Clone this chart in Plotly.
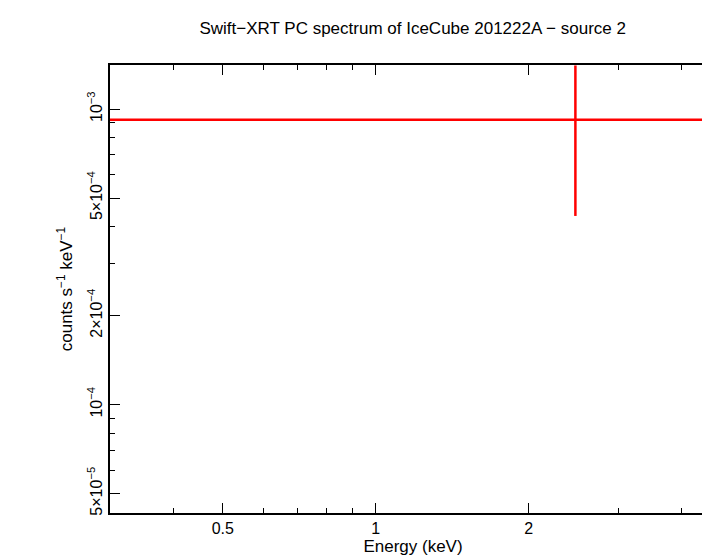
import plotly.graph_objects as go
import numpy as np

energy = [2.47]
e_lo = [2.2]
e_hi = [7.5]
rate = [9.2e-4]
rate_err = [4.85e-4]

xticks = [0.5, 1, 2]
xticktext = ["0.5", "1", "2"]
xminor = [0.3, 0.4, 0.6, 0.7, 0.8, 0.9, 3, 4]
yticks = [5e-5, 1e-4, 2e-4, 5e-4, 1e-3]
yticktext = ["5×10<sup>−5</sup>", "10<sup>−4</sup>", "2×10<sup>−4</sup>", "5×10<sup>−4</sup>", "10<sup>−3</sup>"]
yminor = [6e-5, 7e-5, 8e-5, 9e-5, 3e-4, 4e-4, 6e-4, 7e-4, 8e-4, 9e-4]

fig = go.Figure(go.Scatter(
    x=energy, y=rate, mode="markers", marker=dict(size=1, color="red"),
    error_x=dict(type="data", symmetric=False, array=e_hi, arrayminus=e_lo, color="red", thickness=2.5, width=0),
    error_y=dict(type="data", array=rate_err, color="red", thickness=2.5, width=0),
    cliponaxis=True, showlegend=False))

font = dict(family="Liberation Sans, Arial", size=16, color="black")
ax = dict(type="log", showgrid=False, zeroline=False, ticks="inside", mirror="allticks", automargin=False,
          showline=True, linecolor="black", linewidth=2, tickcolor="black", ticklen=10, tickfont=font)
fig.update_xaxes(**ax, range=[np.log10(0.3), np.log10(4.67)], tickvals=xticks, ticktext=xticktext,
                 minor=dict(ticks="inside", ticklen=5, tickcolor="black", tickvals=xminor),
                 title=dict(text="Energy (keV)", font=dict(size=17, color="black", family="Liberation Sans, Arial"), standoff=2))
fig.update_yaxes(**ax, range=[np.log10(4.3e-5), np.log10(1.41e-3)], tickvals=yticks, ticktext=yticktext,
                 minor=dict(ticks="inside", ticklen=5, tickcolor="black", tickvals=yminor),
                 tickangle=-90,
                 title=dict(text="counts s<sup>−1</sup> keV<sup>−1</sup>", font=dict(size=17, color="black", family="Liberation Sans, Arial"), standoff=8))
fig.update_layout(width=710, height=556, plot_bgcolor="white", paper_bgcolor="white",
                  margin=dict(l=102, r=2, t=57, b=51),
                  title=dict(text="Swift−XRT PC spectrum of IceCube 201222A − source 2", x=0.57, y=0.975,
                             font=dict(size=17, color="black", family="Liberation Sans, Arial")))
fig.write_html("out.html")
